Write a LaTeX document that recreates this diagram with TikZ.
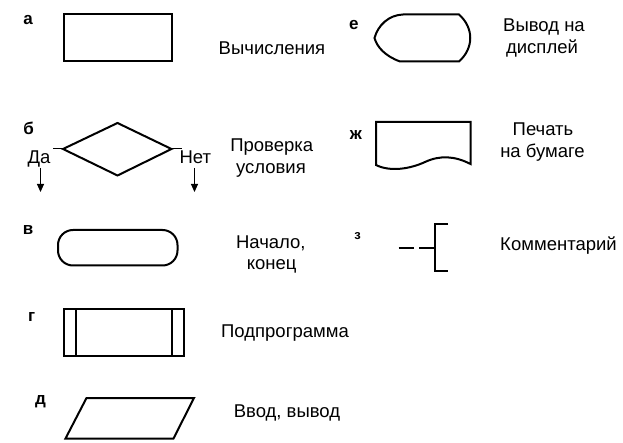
\documentclass[tikz,border=0pt]{standalone}
\usepackage{fontspec}
\setmainfont{Liberation Sans}
\usetikzlibrary{arrows.meta}
\begin{document}
\begin{tikzpicture}[x=1pt,y=-1pt,
  blk/.style={line width=2pt, line join=miter},
  thin/.style={line width=1pt},
  txt/.style={font=\fontsize{18.5}{22}\selectfont, anchor=base, inner sep=0pt},
  lbl/.style={font=\fontsize{17}{20}\selectfont\bfseries, anchor=base, inner sep=0pt},
  arr/.style={line width=1pt, -{Triangle[length=8pt,width=7pt]}}]
\useasboundingbox (0,0) rectangle (623,443);
% labels
\node[lbl] (la) at (28,25) {а};
\node[lbl] (lb) at (28.7,135) {б};
\node[lbl] (lv) at (28,235) {в};
\node[lbl] (lg) at (31.7,321.7) {г};
\node[lbl] (ld) at (40.5,404) {д};
\node[lbl] (le) at (353.8,30) {е};
\node[lbl] (lz) at (356,140) {ж};
\node[lbl, font=\fontsize{13}{15}\selectfont\bfseries] (lc) at (357.5,240) {з};
% (а) process
\draw[blk] (64,14.5) rectangle (172,61.5);
\node[txt] (t1) at (272,55) {Вычисления};
% (б) decision
\coordinate (dl) at (63,149);
\coordinate (dt) at (117.5,123);
\coordinate (dr) at (171.5,149);
\coordinate (db) at (117.5,175.5);
\coordinate (dle) at (53,149);
\coordinate (dre) at (182,149);
\draw[blk] (dl) -- (dt) -- (dr) -- (db) -- cycle;
\draw[thin] (dle) -- (dl);
\draw[thin] (dr) -- (dre);
\node[txt] (yes) at (39,163.3) {Да};
\node[txt] (no) at (195.3,163.3) {Нет};
\coordinate (ya) at (40.5,168);
\coordinate (yb) at (40.5,192);
\coordinate (na) at (194.5,168);
\coordinate (nb) at (194.5,192);
\draw[arr] (ya) -- (yb);
\draw[arr] (na) -- (nb);
\node[txt] (t2a) at (271.7,151.7) {Проверка};
\node[txt] (t2b) at (271,173.3) {условия};
% (в) terminator
\draw[blk, rounded corners=15pt] (58,230) rectangle (177.5,265.5);
\node[txt] (t3a) at (270.8,248.3) {Начало,};
\node[txt] (t3b) at (271.7,270) {конец};
% (г) subroutine
\draw[blk] (64,308.5) rectangle (183.5,355.5);
\draw[blk] (76,308.5) -- (76,355.5);
\draw[blk] (172,308.5) -- (172,355.5);
\node[txt] (t4) at (285,337.3) {Подпрограмма};
% (д) input/output
\draw[blk] (86.5,398) -- (194,398) -- (173.5,438.5) -- (65.5,438.5) -- cycle;
\node[txt] (t5) at (287,417.3) {Ввод, вывод};
% (е) display
\draw[blk] (403,14.5) -- (459,14.5)
  .. controls (474,28) and (474,48) .. (459,61.5)
  -- (400,61.5)
  .. controls (385,56) and (377,47) .. (374.5,38)
  .. controls (378,25) and (389,15) .. (403,14.5) -- cycle;
\node[txt] (t6a) at (544,31.7) {Вывод на};
\node[txt] (t6b) at (542,53.3) {дисплей};
% (ж) document
\draw[blk] (376,165) -- (376,122) -- (470.5,122) -- (470.5,164)
  .. controls (455,156) and (440,155) .. (425,162)
  .. controls (410,169) and (390,172) .. (376,165) -- cycle;
\node[txt] (t7a) at (543,136) {Печать};
\node[txt] (t7b) at (542.5,158) {на бумаге};
% (з) comment
\coordinate (c1) at (398.5,248);
\coordinate (c2) at (413.5,248);
\coordinate (c3) at (419,248);
\coordinate (c4) at (435,248);
\draw[blk] (c1) -- (c2);
\draw[blk] (c3) -- (c4);
\draw[blk] (448,224.5) -- (435,224.5) -- (435,271.5) -- (448,271.5);
\node[txt] (t8) at (558.5,250.7) {Комментарий};
\end{tikzpicture}
\end{document}
